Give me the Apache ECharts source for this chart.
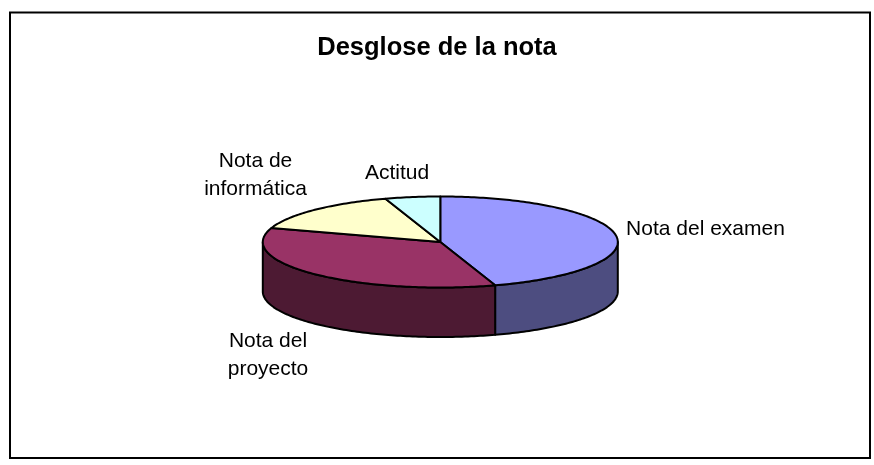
<!DOCTYPE html>
<html>
<head>
	<meta charset="UTF-8">
	<title>Desglose de la nota</title>
	<style>
		html,body{margin:0;padding:0;background:#fff;}
		#mychart{width:874px;height:465px;}
	</style>
</head>
<body>
	<div id="mychart"></div>
<script type="text/javascript" src="https://cdn.jsdelivr.net/npm/echarts@6/dist/echarts.min.js"></script>
<script type="text/javascript">
	var chartTitle = "Desglose de la nota";
	var categories = ["Nota del examen","Nota del\nproyecto","Nota de\ninformática","Actitud"];
	var values = [45,35,15,5];
	var topColors = ["#9999ff","#993366","#ffffcc","#ccffff"];
	var sideColors = ["#4d4d80","#4d1a33","#808066","#668080"];
	var total = values.reduce(function(a,b){return a+b;},0);

	//geometria del pastel
	var cx = 440.3, cy = 242, rx = 177.5, ry = 45.5, depth = 49.5;
	//centro de cada etiqueta
	var labelPos = [[705.5,229],[268,355.5],[255.5,175],[397,173]];

	function pt(deg,dy){ //angulo desde las 12 en sentido horario
		var r = deg*Math.PI/180;
		return [cx+rx*Math.sin(r),cy-ry*Math.cos(r)+(dy||0)];
	}
	function arc(a,b,dy){
		var list = [];
		for(var d=a;d<b;d+=1){
			list.push(pt(d,dy));
		}
		list.push(pt(b,dy));
		return list;
	}

	function renderSlice(params,api){
		var i = params.dataIndex;
		var before = 0;
		for(var k=0;k<i;k++){ before += values[k]; }
		var a = before/total*360;
		var b = a+api.value(1)/total*360;
		var line = {stroke:"#000",lineWidth:2,lineJoin:"round"};
		var kids = [];
		//pared lateral, solo la parte delantera
		var s = Math.max(a,90), e = Math.min(b,270);
		if(e>s){
			var side = arc(s,e,0).concat(arc(s,e,depth).reverse());
			kids.push({type:"polygon",shape:{points:side},
				style:Object.assign({fill:sideColors[i]},line)});
		}
		//cara superior
		var top = [[cx,cy]].concat(arc(a,b,0));
		kids.push({type:"polygon",shape:{points:top},
			style:Object.assign({fill:topColors[i]},line),z2:5});
		//etiqueta
		kids.push({type:"text",x:labelPos[i][0],y:labelPos[i][1],z2:10,
			style:{text:categories[i],fill:"#000",font:"21px 'Liberation Sans'",
				align:"center",verticalAlign:"middle",lineHeight:28}});
		return {type:"group",children:kids};
	}

	var myChart = echarts.init(document.getElementById("mychart"),null,{renderer:"canvas"});
	myChart.setOption({
		animation:false,
		backgroundColor:"#fff",
		title:{
			text:chartTitle,
			left:432,
			top:30,
			textAlign:"center",
			textStyle:{color:"#000",fontFamily:"Liberation Sans",fontWeight:"bold",fontSize:25.5}
		},
		graphic:[{
			type:"rect",
			shape:{x:10,y:12.5,width:860,height:445.5},
			style:{fill:"none",stroke:"#000",lineWidth:2},
			silent:true
		}],
		series:[{
			type:"custom",
			coordinateSystem:"none",
			renderItem:renderSlice,
			data:values.map(function(v,i){return [i,v];})
		}]
	});
</script>
</body>
</html>
